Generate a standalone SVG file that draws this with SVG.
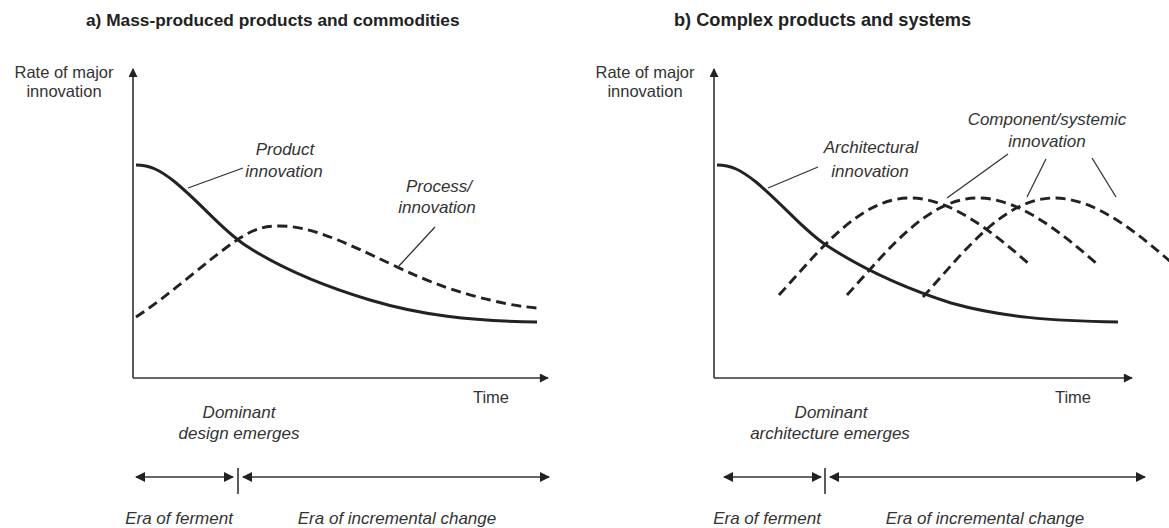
<svg xmlns="http://www.w3.org/2000/svg" width="1169" height="528" viewBox="0 0 1169 528">
<style>
.title{font-family:"Liberation Sans",Arial,sans-serif;font-weight:bold;font-size:18px;fill:#222}
.lbl{font-family:"Liberation Sans",Arial,sans-serif;font-size:16.5px;fill:#333}
.it{font-family:"Liberation Sans",Arial,sans-serif;font-style:italic;font-size:17px;fill:#333}
.axis{stroke:#333;stroke-width:1.6;fill:none}
.solid{stroke:#222;stroke-width:3;fill:none}
.dash{stroke:#222;stroke-width:2.9;fill:none;stroke-dasharray:10 5.5}
.lead{stroke:#333;stroke-width:1.3;fill:none}
</style>
<defs>
<marker id="ah" viewBox="0 0 10 10" refX="9" refY="5" markerWidth="11" markerHeight="9" markerUnits="userSpaceOnUse" orient="auto-start-reverse">
<path d="M0,0 L10,5 L0,10 Z" fill="#222"/>
</marker>
<marker id="ah2" viewBox="0 0 10 10" refX="9" refY="5" markerWidth="13" markerHeight="10" markerUnits="userSpaceOnUse" orient="auto-start-reverse">
<path d="M0,0 L10,5 L0,10 Z" fill="#222"/>
</marker>
</defs>
<rect width="1169" height="528" fill="#fff"/>

<g id="panel-a">
<text class="title" x="86" y="26" style="font-size:17.3px">a) Mass-produced products and commodities</text>
<g id="axes-a">
<line class="axis" x1="133" y1="378" x2="133" y2="69" marker-end="url(#ah)"/>
<line class="axis" x1="133" y1="378" x2="548" y2="378" marker-end="url(#ah)"/>
<text class="lbl" x="64" y="78" text-anchor="middle">Rate of major</text>
<text class="lbl" x="64" y="97" text-anchor="middle">innovation</text>
<text class="lbl" x="491" y="403" text-anchor="middle">Time</text>
</g>
<g id="product-innovation-a">
<path class="solid" d="M136,165 C150,165 160,170 175,182 C205,207 220,228 245,245 C280,268 320,285 370,300 C420,315 470,321 537,322"/>
<line class="lead" x1="243" y1="168" x2="188" y2="188"/>
<text class="it" x="285" y="155" text-anchor="middle">Product</text>
<text class="it" x="284" y="177" text-anchor="middle">innovation</text>
</g>
<g id="process-innovation-a">
<path class="dash" d="M136,317 C170,295 210,258 237,240 C255,228 265,226 280,226 C310,226 340,240 393,265 C430,283 460,293 490,300 C510,305 525,307 537,308"/>
<line class="lead" x1="435" y1="227" x2="398" y2="267"/>
<text class="it" x="439" y="192" text-anchor="middle">Process/</text>
<text class="it" x="437" y="213" text-anchor="middle">innovation</text>
</g>
<g id="eras-a">
<text class="it" x="239" y="418" text-anchor="middle">Dominant</text>
<text class="it" x="239" y="439" text-anchor="middle">design emerges</text>
<line class="axis" x1="136" y1="477" x2="233" y2="477" marker-start="url(#ah2)" marker-end="url(#ah2)"/>
<line class="axis" x1="238" y1="468" x2="238" y2="494"/>
<line class="axis" x1="243" y1="477" x2="549" y2="477" marker-start="url(#ah2)" marker-end="url(#ah2)"/>
<text class="it" x="179" y="524" text-anchor="middle">Era of ferment</text>
<text class="it" x="397" y="524" text-anchor="middle">Era of incremental change</text>
</g>
</g>

<g id="panel-b">
<text class="title" x="674" y="26" style="font-size:18.2px">b) Complex products and systems</text>
<g id="axes-b">
<line class="axis" x1="714" y1="378" x2="714" y2="69" marker-end="url(#ah)"/>
<line class="axis" x1="714" y1="378" x2="1132" y2="378" marker-end="url(#ah)"/>
<text class="lbl" x="645" y="78" text-anchor="middle">Rate of major</text>
<text class="lbl" x="645" y="97" text-anchor="middle">innovation</text>
<text class="lbl" x="1073" y="403" text-anchor="middle">Time</text>
</g>
<g id="architectural-innovation-b">
<path class="solid" d="M717,165 C731,165 741,170 756,182 C786,207 801,228 826,245 C861,268 901,287 951,303 C1001,317 1051,321 1118,322"/>
<line class="lead" x1="818" y1="167" x2="768" y2="188"/>
<text class="it" x="871" y="153" text-anchor="middle">Architectural</text>
<text class="it" x="870" y="177" text-anchor="middle">innovation</text>
</g>
<g id="component-innovation-b">
<path class="dash" d="M779,295 C820,250 860,198 910,198 C950,198 990,230 1028,263"/>
<path class="dash" d="M847,295 C888,250 928,198 978,198 C1018,198 1058,230 1096,263"/>
<path class="dash" d="M923,297 C964,252 1004,198 1054,198 C1094,198 1134,230 1172,263"/>
<line class="lead" x1="1008" y1="154" x2="947" y2="198"/>
<line class="lead" x1="1046" y1="159" x2="1027" y2="197"/>
<line class="lead" x1="1092" y1="158" x2="1116" y2="197"/>
<text class="it" x="1047" y="125" text-anchor="middle">Component/systemic</text>
<text class="it" x="1047" y="147" text-anchor="middle">innovation</text>
</g>
<g id="eras-b">
<text class="it" x="831" y="418" text-anchor="middle">Dominant</text>
<text class="it" x="830" y="439" text-anchor="middle">architecture emerges</text>
<line class="axis" x1="724" y1="477" x2="821" y2="477" marker-start="url(#ah2)" marker-end="url(#ah2)"/>
<line class="axis" x1="825" y1="468" x2="825" y2="494"/>
<line class="axis" x1="830" y1="477" x2="1145" y2="477" marker-start="url(#ah2)" marker-end="url(#ah2)"/>
<text class="it" x="767" y="524" text-anchor="middle">Era of ferment</text>
<text class="it" x="985" y="524" text-anchor="middle">Era of incremental change</text>
</g>
</g>
</svg>
